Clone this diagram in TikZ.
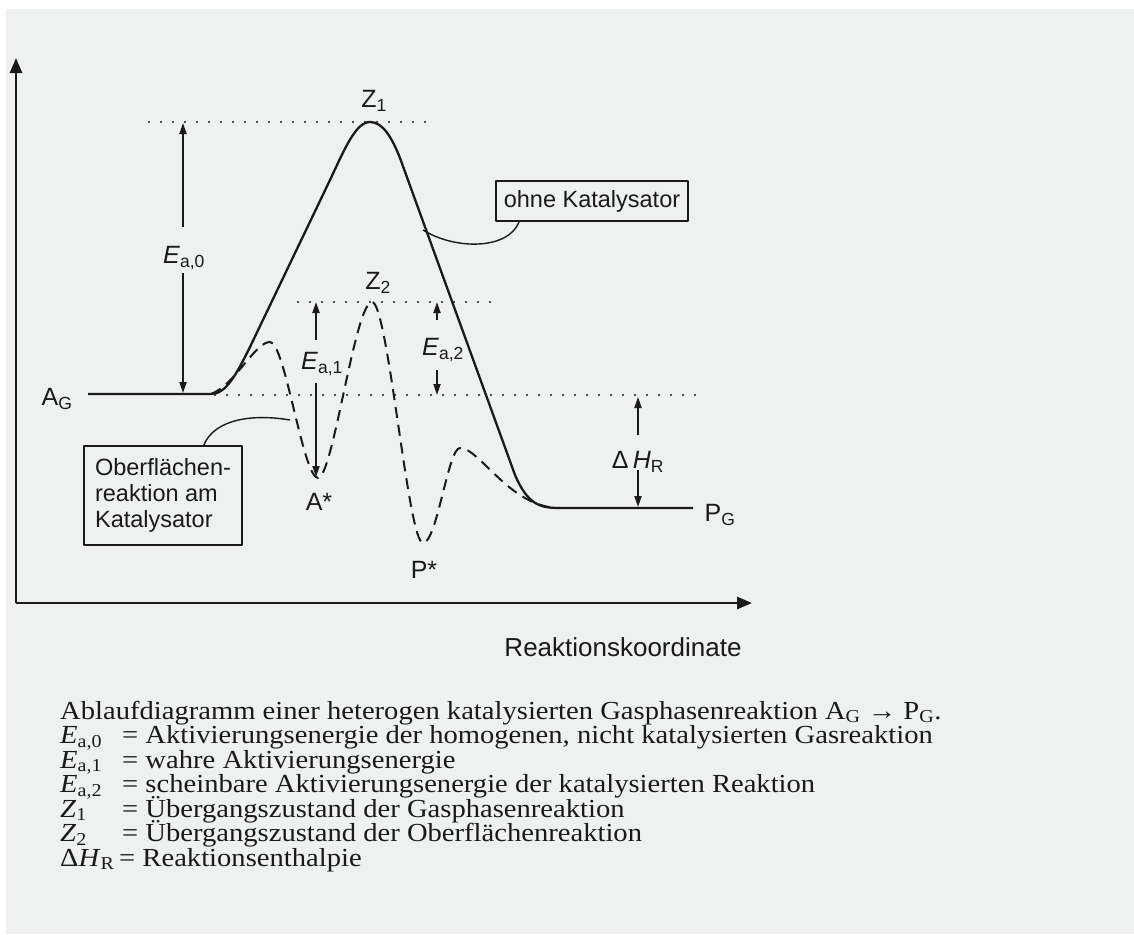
\documentclass[tikz,border=0pt]{standalone}
\usepackage{fontspec}
\usepackage{graphicx}
\setmainfont{Liberation Serif}
\newfontfamily\lsans{Liberation Sans}
\usetikzlibrary{arrows.meta}
\definecolor{paper}{HTML}{EEF1F0}
\definecolor{inkc}{HTML}{1A1A1A}
\newcommand{\capline}[1]{\scalebox{1.1}[1]{#1}}
\begin{document}
\begin{tikzpicture}[x=1pt,y=-1pt,line join=round,
  curve/.style={draw=inkc,line width=2.3pt},
  dashcurve/.style={draw=inkc,line width=2pt,dash pattern=on 11pt off 7pt},
  dotline/.style={draw=inkc,line width=2.3pt,dash pattern=on 0pt off 12pt,line cap=round},
  axis/.style={draw=inkc,line width=2.6pt,-{Triangle[length=15pt,width=12pt]}},
  dim/.style={draw=inkc,line width=1.8pt,-{Triangle[length=11pt,width=7pt]}},
  lab/.style={font=\lsans\fontsize{25}{26}\selectfont,text=inkc,inner sep=0pt},
  boxnode/.style={draw=inkc,line width=1.8pt,font=\lsans\fontsize{23.5}{26}\selectfont,text=inkc,inner sep=0pt},
  captext/.style={font=\fontsize{26}{26}\selectfont,text=inkc,inner sep=0pt,anchor=base west},
  pointer/.style={draw=inkc,line width=1.4pt}]
% paper
\fill[white] (0,0) rectangle (1134,934);
\fill[paper] (6,9) rectangle (1134,934);
\useasboundingbox (0,0) rectangle (1134,934);

% axes
\coordinate (origin) at (16,603);
\coordinate (ytip) at (16,58);
\coordinate (xtip) at (752,603);
\draw[axis] (origin) -- (ytip);
\draw[axis] (origin) -- (xtip);
\node[lab,font=\lsans\fontsize{26}{26}\selectfont] (rk) at (623,647) {Reaktionskoordinate};

% levels (dotted)
\coordinate (z1peak) at (370,122);
\draw[dotline] (149,122) -- (430,122);
\draw[dotline] (298,302) -- (500,302);
\draw[dotline] (215,395) -- (698,395);

% solid curve (ohne Katalysator)
\coordinate (agl) at (88,394);
\coordinate (split) at (211,394);
\coordinate (merge) at (560,508);
\coordinate (pgr) at (693,508);
\draw[curve] (agl) -- (split) .. controls (226,394) and (236,375) .. (250,347)
  -- (330,180) .. controls (345,148) and (356,122) .. (z1peak)
  .. controls (383,122) and (392,138) .. (400,158)
  -- (515,475) .. controls (528,505) and (540,508) .. (merge) -- (pgr);

% dashed curve (Oberflaechenreaktion)
\draw[dashcurve] (split) .. controls (235,385) and (255,342) .. (270,342)
  .. controls (285,342) and (303,478) .. (318,478)
  .. controls (333,478) and (355,302) .. (372,302)
  .. controls (388,302) and (408,543) .. (423,543)
  .. controls (437,543) and (448,448) .. (460,448)
  .. controls (480,448) and (510,508) .. (merge);

% labels
\node[lab] (z1) at (374,101) {Z\textsubscript{1}};
\node[lab] (z2) at (378,283) {Z\textsubscript{2}};
\node[lab] (ag) at (57,399) {A\textsubscript{G}};
\node[lab] (pg) at (720,515) {P\textsubscript{G}};
\node[lab] (astar) at (319,502) {A*};
\node[lab] (pstar) at (424,570) {P*};
\node[lab] (ea0) at (184,258) {\textit{E}\textsubscript{a,0}};
\node[lab] (ea1) at (322,364) {\textit{E}\textsubscript{a,1}};
\node[lab] (ea2) at (443,350) {\textit{E}\textsubscript{a,2}};
\node[lab] (dh) at (638,462) {Δ\,\textit{H}\textsubscript{R}};

% dimension arrows
\coordinate (e0u) at (183,227); \coordinate (e0t) at (183,123);
\coordinate (e0d) at (183,273); \coordinate (e0b) at (183,393);
\draw[dim] (e0u) -- (e0t); \draw[dim] (e0d) -- (e0b);
\coordinate (e1u) at (316,340); \coordinate (e1t) at (316,302);
\coordinate (e1d) at (316,383); \coordinate (e1b) at (316,477);
\draw[dim] (e1u) -- (e1t); \draw[dim] (e1d) -- (e1b);
\coordinate (e2u) at (437,320); \coordinate (e2t) at (437,302);
\coordinate (e2d) at (437,370); \coordinate (e2b) at (437,395);
\draw[dim] (e2u) -- (e2t); \draw[dim] (e2d) -- (e2b);
\coordinate (hu) at (638,435); \coordinate (ht) at (638,397);
\coordinate (hd) at (638,470); \coordinate (hb) at (638,507);
\draw[dim] (hu) -- (ht); \draw[dim] (hd) -- (hb);

% boxes with pointers
\node[boxnode,minimum width=192pt,minimum height=40pt] (ohne) at (592,201) {ohne Katalysator};
\coordinate (ohnept) at (423,230);
\draw[pointer] (ohne.196) .. controls (508,250) and (455,250) .. (ohnept);
\node[boxnode,align=left,minimum width=158pt,minimum height=99pt] (obf) at (163,495.5) {Oberflächen-\\reaktion am\\Katalysator};
\coordinate (obfpt) at (290,420);
\draw[pointer] (obf.51) .. controls (215,418) and (255,414) .. (obfpt);

% caption
\node[captext] (c0) at (60,719) {\capline{Ablaufdiagramm einer heterogen katalysierten Gasphasenreaktion A\textsubscript{G} → P\textsubscript{G}.}};
\node[captext] (s1) at (60,743.5) {\capline{\textit{E}\textsubscript{a,0}}};
\node[captext] (t1) at (122,743.5) {\capline{= Aktivierungsenergie der homogenen, nicht katalysierten Gasreaktion}};
\node[captext] (s2) at (60,768) {\capline{\textit{E}\textsubscript{a,1}}};
\node[captext] (t2) at (122,768) {\capline{= wahre Aktivierungsenergie}};
\node[captext] (s3) at (60,792.5) {\capline{\textit{E}\textsubscript{a,2}}};
\node[captext] (t3) at (122,792.5) {\capline{= scheinbare Aktivierungsenergie der katalysierten Reaktion}};
\node[captext] (s4) at (60,817) {\capline{\textit{Z}\textsubscript{1}}};
\node[captext] (t4) at (122,817) {\capline{= Übergangszustand der Gasphasenreaktion}};
\node[captext] (s5) at (60,841.5) {\capline{\textit{Z}\textsubscript{2}}};
\node[captext] (t5) at (122,841.5) {\capline{= Übergangszustand der Oberflächenreaktion}};
\node[captext] (s6) at (60,866) {\capline{Δ\textit{H}\textsubscript{R}}};
\node[captext] (t6) at (119,866) {\capline{= Reaktionsenthalpie}};
\end{tikzpicture}
\end{document}
